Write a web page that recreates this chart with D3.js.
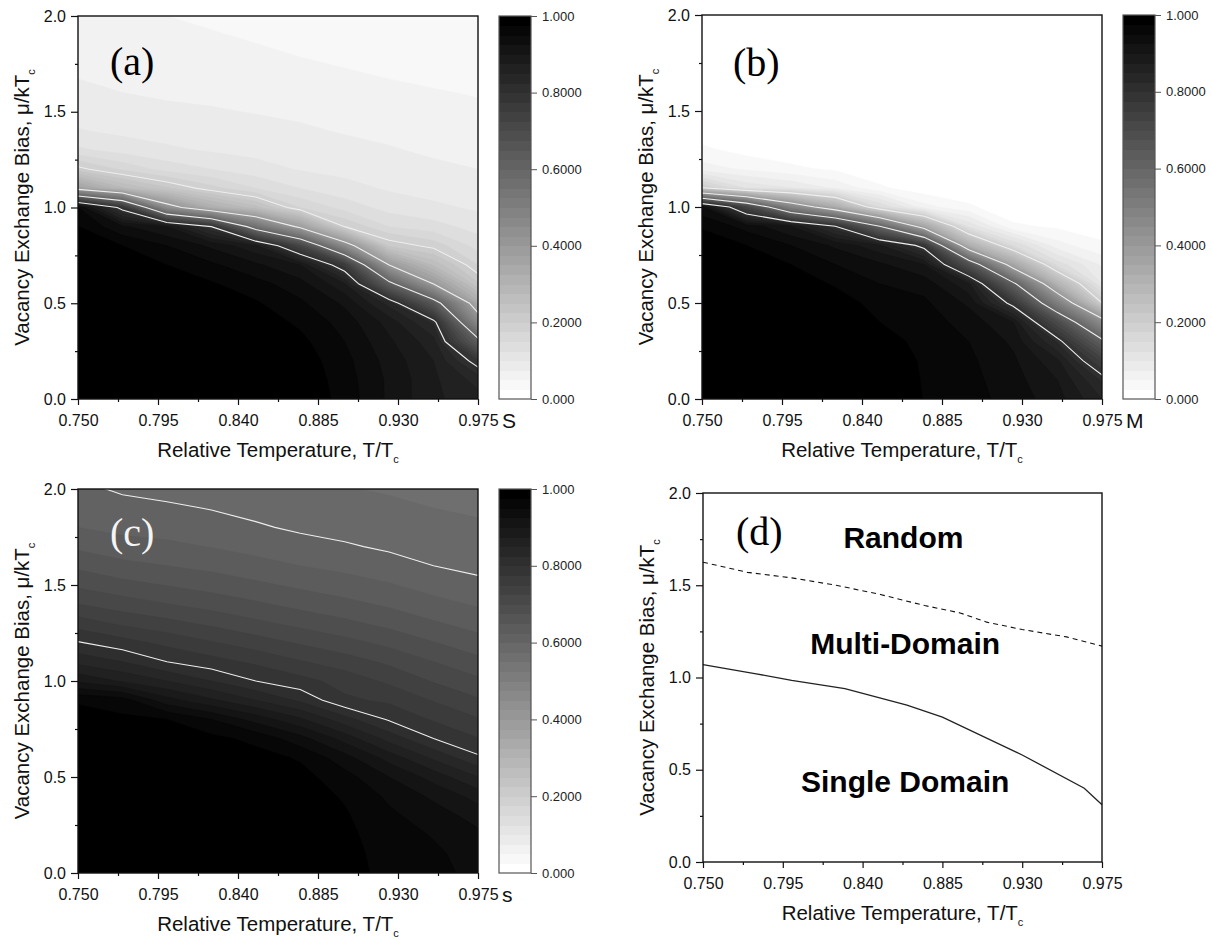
<!DOCTYPE html>
<html>
<head>
<meta charset="utf-8">
<script src="https://cdn.jsdelivr.net/npm/d3@7"></script>
<style>
  body { margin: 0; background: #fff; }
  svg { display: block; font-family: Arial, "Liberation Sans", sans-serif; }
</style>
</head>
<body>
<svg id="fig" width="1212" height="940"></svg>
<script>
// grid of the maps: temperature columns, bias rows (top row first)
var temps  = [0.750, 0.775, 0.800, 0.825, 0.850, 0.875, 0.900, 0.925, 0.950, 0.975];
var biases = [2.0, 1.9, 1.8, 1.7, 1.6, 1.5, 1.4, 1.3, 1.2, 1.1, 1.0,
              0.9, 0.8, 0.7, 0.6, 0.5, 0.4, 0.3, 0.2, 0.1, 0.0];

// (a) order parameter S, one array per temperature column, bias 2.0 -> 0.0
var sGrid = [
  [.062,.066,.070,.073,.080,.088,.102,.130,.210,.370,.950,.976,.990,.995,1,1,1,1,1,1,1],
  [.056,.061,.066,.070,.075,.083,.094,.115,.170,.280,.780,.930,.975,.990,.996,1,1,1,1,1,1],
  [.050,.056,.062,.067,.072,.079,.088,.105,.140,.230,.440,.900,.950,.975,.990,.997,1,1,1,1,1],
  [.045,.052,.058,.064,.070,.077,.085,.097,.125,.185,.320,.800,.920,.955,.978,.990,.997,1,1,1,1],
  [.040,.047,.054,.061,.067,.074,.082,.092,.110,.150,.260,.550,.880,.930,.960,.978,.990,.996,1,1,1],
  [.036,.042,.049,.056,.063,.070,.079,.088,.098,.125,.175,.380,.720,.900,.935,.955,.970,.982,.990,.995,.997],
  [.033,.038,.045,.052,.059,.066,.073,.083,.093,.108,.140,.200,.450,.760,.880,.920,.940,.950,.958,.962,.965],
  [.030,.035,.041,.048,.055,.062,.069,.077,.087,.097,.115,.150,.220,.400,.630,.840,.890,.905,.915,.920,.920],
  [.028,.032,.037,.043,.052,.058,.064,.071,.080,.090,.105,.135,.190,.270,.400,.650,.820,.860,.875,.880,.880],
  [.025,.030,.035,.040,.048,.055,.060,.066,.075,.084,.096,.115,.140,.175,.230,.340,.460,.630,.780,.840,.860]
];

// (b) order parameter M
var mGrid = [
  [.005,.005,.005,.005,.005,.005,.010,.030,.060,.200,.930,.972,.990,.996,1,1,1,1,1,1,1],
  [.004,.004,.004,.004,.004,.004,.006,.015,.045,.120,.720,.940,.975,.990,.996,1,1,1,1,1,1],
  [.004,.004,.004,.004,.004,.004,.005,.010,.030,.100,.480,.900,.950,.975,.990,.996,1,1,1,1,1],
  [.003,.003,.003,.003,.003,.003,.004,.004,.020,.070,.330,.800,.920,.950,.972,.988,.995,1,1,1,1],
  [.003,.003,.003,.003,.003,.003,.003,.004,.004,.030,.150,.600,.880,.930,.950,.965,.975,.985,.990,.995,.997],
  [.002,.002,.002,.002,.002,.002,.003,.003,.003,.008,.060,.350,.780,.900,.940,.955,.962,.968,.972,.973,.974],
  [.002,.002,.002,.002,.002,.002,.002,.002,.002,.004,.030,.120,.320,.680,.880,.920,.940,.950,.955,.958,.960],
  [.002,.002,.002,.002,.002,.002,.002,.002,.002,.003,.005,.030,.150,.350,.620,.780,.900,.920,.930,.935,.940],
  [.002,.002,.002,.002,.002,.002,.002,.002,.002,.002,.004,.020,.060,.140,.300,.500,.700,.820,.880,.900,.910],
  [.002,.002,.002,.002,.002,.002,.002,.002,.002,.002,.003,.010,.030,.070,.100,.200,.450,.620,.740,.820,.850]
];

// (c) order parameter s
var sLocalGrid = [
  [.605,.614,.625,.645,.670,.695,.725,.763,.802,.842,.895,.972,.985,.992,.996,.998,1,1,1,1,1],
  [.597,.607,.618,.635,.657,.683,.712,.745,.785,.825,.872,.962,.980,.990,.995,.998,1,1,1,1,1],
  [.592,.604,.616,.630,.650,.674,.701,.733,.768,.800,.850,.910,.975,.988,.994,.997,.999,1,1,1,1],
  [.590,.599,.610,.624,.643,.665,.690,.720,.752,.785,.825,.880,.950,.982,.991,.995,.998,.999,1,1,1],
  [.585,.593,.603,.616,.634,.655,.679,.706,.737,.770,.800,.850,.915,.968,.985,.991,.995,.997,.998,.999,1],
  [.580,.588,.596,.609,.625,.645,.667,.693,.722,.752,.784,.820,.880,.935,.972,.984,.989,.992,.994,.995,.996],
  [.576,.583,.591,.603,.618,.636,.657,.681,.708,.737,.765,.780,.835,.890,.935,.960,.972,.978,.981,.983,.984],
  [.573,.579,.586,.596,.610,.627,.646,.668,.693,.720,.745,.770,.797,.840,.890,.925,.945,.955,.962,.966,.968],
  [.570,.575,.582,.590,.600,.615,.633,.653,.676,.700,.723,.748,.772,.800,.845,.890,.920,.937,.948,.955,.958],
  [.567,.572,.578,.585,.594,.606,.622,.640,.660,.682,.705,.728,.752,.776,.805,.850,.890,.915,.930,.938,.942]
];

// (d) phase boundaries
var singleT    = [0.750, 0.780, 0.800, 0.830, 0.865, 0.885, 0.930, 0.965, 0.975];
var singleBias = [1.070, 1.020, 0.985, 0.940, 0.850, 0.785, 0.580, 0.400, 0.310];
var randomT    = [0.750, 0.775, 0.800, 0.825, 0.850, 0.875, 0.895, 0.910, 0.930, 0.955, 0.975];
var randomBias = [1.625, 1.570, 1.540, 1.500, 1.450, 1.390, 1.350, 1.300, 1.260, 1.220, 1.170];
var regionNames = ["Random", "Multi-Domain", "Single Domain"];
var regionT     = [0.863, 0.864, 0.864];
var regionBias  = [1.70, 1.13, 0.38];

// axes / colour scale
var xTicks = [0.750, 0.795, 0.840, 0.885, 0.930, 0.975];
var xMinor = [0.7725, 0.8175, 0.8625, 0.9075, 0.9525];
var yTicks = [0, 0.5, 1.0, 1.5, 2.0];
var yMinor = [0.25, 0.75, 1.25, 1.75];
var barTicks = [0, 0.2, 0.4, 0.6, 0.8, 1.0];
var barTickLabels = ["0.000", "0.2000", "0.4000", "0.6000", "0.8000", "1.000"];
var nBands = 40;
var lineLevels = [0.2, 0.4, 0.6, 0.8];

var svg = d3.select("#fig");
var bandStep = 1 / nBands;
var thresholds = d3.range(nBands).map(function(k){ return k * bandStep; });
function bandColor(k) {
  var g = Math.round(255 * (1 - k / (nBands - 1)));
  return d3.rgb(g, g, g).toString();
}

function axes(g, x, y, p) {
  var bottom = p.top + p.h;
  g.append("g").attr("transform", "translate(0," + bottom + ")")
    .call(d3.axisBottom(x).tickValues(xMinor).tickSize(3).tickFormat(""));
  g.append("g").attr("transform", "translate(0," + bottom + ")")
    .call(d3.axisBottom(x).tickValues(xTicks).tickSize(6).tickPadding(10)
      .tickFormat(d3.format(".3f")));
  g.append("g").attr("transform", "translate(" + p.left + ",0)")
    .call(d3.axisLeft(y).tickValues(yMinor).tickSize(3).tickFormat(""));
  g.append("g").attr("transform", "translate(" + p.left + ",0)")
    .call(d3.axisLeft(y).tickValues(yTicks).tickSize(7).tickPadding(5)
      .tickFormat(d3.format(".1f")));
  g.selectAll(".domain").remove();
  g.selectAll(".tick line").attr("stroke", "#111").attr("stroke-width", 1.2);
  g.selectAll(".tick text").attr("font-size", 16).attr("fill", "#111")
    .attr("font-family", "Arial, 'Liberation Sans', sans-serif");

  g.append("rect")
    .attr("x", p.left).attr("y", p.top).attr("width", p.w).attr("height", p.h)
    .attr("fill", "none").attr("stroke", "#111").attr("stroke-width", 1.4);

  var xt = g.append("text")
    .attr("x", p.left + p.w / 2).attr("y", bottom + 58)
    .attr("text-anchor", "middle").attr("font-size", 20.5).attr("fill", "#111")
    .text("Relative Temperature, T/T");
  xt.append("tspan").attr("dy", 6).attr("font-size", 11).text("c");

  var yt = g.append("text")
    .attr("transform", "translate(" + (p.left - 49) + "," + (p.top + p.h / 2) + ") rotate(-90)")
    .attr("text-anchor", "middle").attr("font-size", 20.5).attr("fill", "#111")
    .text("Vacancy Exchange Bias, \u03bc/kT");
  yt.append("tspan").attr("dy", 6).attr("font-size", 11).text("c");

  g.append("text")
    .attr("x", p.letterX).attr("y", p.letterY)
    .attr("font-family", "'Liberation Serif', 'Times New Roman', serif")
    .attr("font-size", 40).attr("fill", p.letterColor || "#000")
    .text(p.letter);
}

function contourPanel(p) {
  var g = svg.append("g");
  var x = d3.scaleLinear().domain([0.75, 0.975]).range([p.left, p.left + p.w]);
  var y = d3.scaleLinear().domain([0, 2]).range([p.top + p.h, p.top]);
  var nx = temps.length, ny = biases.length;

  var values = [];
  for (var j = 0; j < ny; j++)
    for (var i = 0; i < nx; i++) values.push(p.grid[i][j]);

  // grid index space -> data space (sample i sits at i + 0.5)
  var ix = d3.scaleLinear().domain([0.5, nx - 0.5]).range([temps[0], temps[nx - 1]]);
  var iy = d3.scaleLinear().domain([0.5, ny - 0.5]).range([biases[0], biases[ny - 1]]);
  var path = d3.geoPath(d3.geoTransform({
    point: function(a, b) { this.stream.point(x(ix(a)), y(iy(b))); }
  }));

  var clipId = "clip-" + p.id;
  g.append("clipPath").attr("id", clipId).append("rect")
    .attr("x", p.left).attr("y", p.top).attr("width", p.w).attr("height", p.h);

  var bands = d3.contours().size([nx, ny]).thresholds(thresholds)(values);
  g.append("g").attr("clip-path", "url(#" + clipId + ")")
    .selectAll("path").data(bands).enter().append("path")
      .attr("d", path)
      .attr("fill", function(d, k){ return bandColor(k); })
      .attr("stroke", function(d, k){ return bandColor(k); })
      .attr("stroke-width", 0.5);

  var isolines = d3.contours().size([nx, ny]).thresholds(lineLevels)(values);
  g.append("g").attr("clip-path", "url(#" + clipId + ")")
    .selectAll("path").data(isolines).enter().append("path")
      .attr("d", path)
      .attr("fill", "none").attr("stroke", "#eeeeee").attr("stroke-width", 1.1);

  axes(g, x, y, p);

  // colour bar
  var yb = d3.scaleLinear().domain([0, 1]).range([p.top + p.h, p.top]);
  g.append("g").selectAll("rect").data(thresholds).enter().append("rect")
    .attr("x", p.barX).attr("width", p.barW)
    .attr("y", function(d){ return yb(d + bandStep); })
    .attr("height", function(d){ return yb(d) - yb(d + bandStep) + 0.5; })
    .attr("fill", function(d, k){ return bandColor(k); })
    .attr("shape-rendering", "crispEdges");
  g.append("rect")
    .attr("x", p.barX).attr("y", p.top).attr("width", p.barW).attr("height", p.h)
    .attr("fill", "none").attr("stroke", "#555").attr("stroke-width", 1.2);
  var bar = g.append("g").attr("transform", "translate(" + (p.barX + p.barW) + ",0)")
    .call(d3.axisRight(yb).tickValues(barTicks).tickSize(6).tickPadding(5)
      .tickFormat(function(d, i){ return barTickLabels[i]; }));
  bar.select(".domain").remove();
  bar.selectAll(".tick line").attr("stroke", "#555");
  bar.selectAll(".tick text").attr("font-size", 13).attr("fill", "#222")
    .attr("font-family", "Arial, 'Liberation Sans', sans-serif");

  g.append("text")
    .attr("x", p.left + p.w + 24).attr("y", p.top + p.h + 29)
    .attr("font-size", 21).attr("fill", "#111").text(p.unit);
}

contourPanel({ id: "a", grid: sGrid, left: 78, top: 16, w: 400, h: 383,
  barX: 499, barW: 32, unit: "S", letter: "(a)", letterX: 110, letterY: 75 });
contourPanel({ id: "b", grid: mGrid, left: 702, top: 15, w: 400, h: 384,
  barX: 1123, barW: 32, unit: "M", letter: "(b)", letterX: 733, letterY: 76 });
contourPanel({ id: "c", grid: sLocalGrid, left: 78, top: 489, w: 400, h: 384,
  barX: 499, barW: 32, unit: "s", letter: "(c)", letterX: 110, letterY: 546,
  letterColor: "#f4f4f4" });

// (d) phase diagram
(function() {
  var p = { left: 703, top: 493, w: 399, h: 369, letter: "(d)", letterX: 736, letterY: 545 };
  var g = svg.append("g");
  var x = d3.scaleLinear().domain([0.75, 0.975]).range([p.left, p.left + p.w]);
  var y = d3.scaleLinear().domain([0, 2]).range([p.top + p.h, p.top]);

  var line = d3.line()
    .x(function(d){ return x(d[0]); })
    .y(function(d){ return y(d[1]); });

  g.append("path")
    .attr("d", line(d3.zip(randomT, randomBias)))
    .attr("fill", "none").attr("stroke", "#111").attr("stroke-width", 1.1)
    .attr("stroke-dasharray", "5,4");
  g.append("path")
    .attr("d", line(d3.zip(singleT, singleBias)))
    .attr("fill", "none").attr("stroke", "#222").attr("stroke-width", 1.3);

  g.selectAll("text.region").data(regionNames).enter().append("text")
    .attr("class", "region")
    .attr("x", function(d, i){ return x(regionT[i]); })
    .attr("y", function(d, i){ return y(regionBias[i]); })
    .attr("text-anchor", "middle")
    .attr("font-size", 30).attr("font-weight", "bold").attr("fill", "#000")
    .text(function(d){ return d; });

  axes(g, x, y, p);
})();
</script>
</body>
</html>
